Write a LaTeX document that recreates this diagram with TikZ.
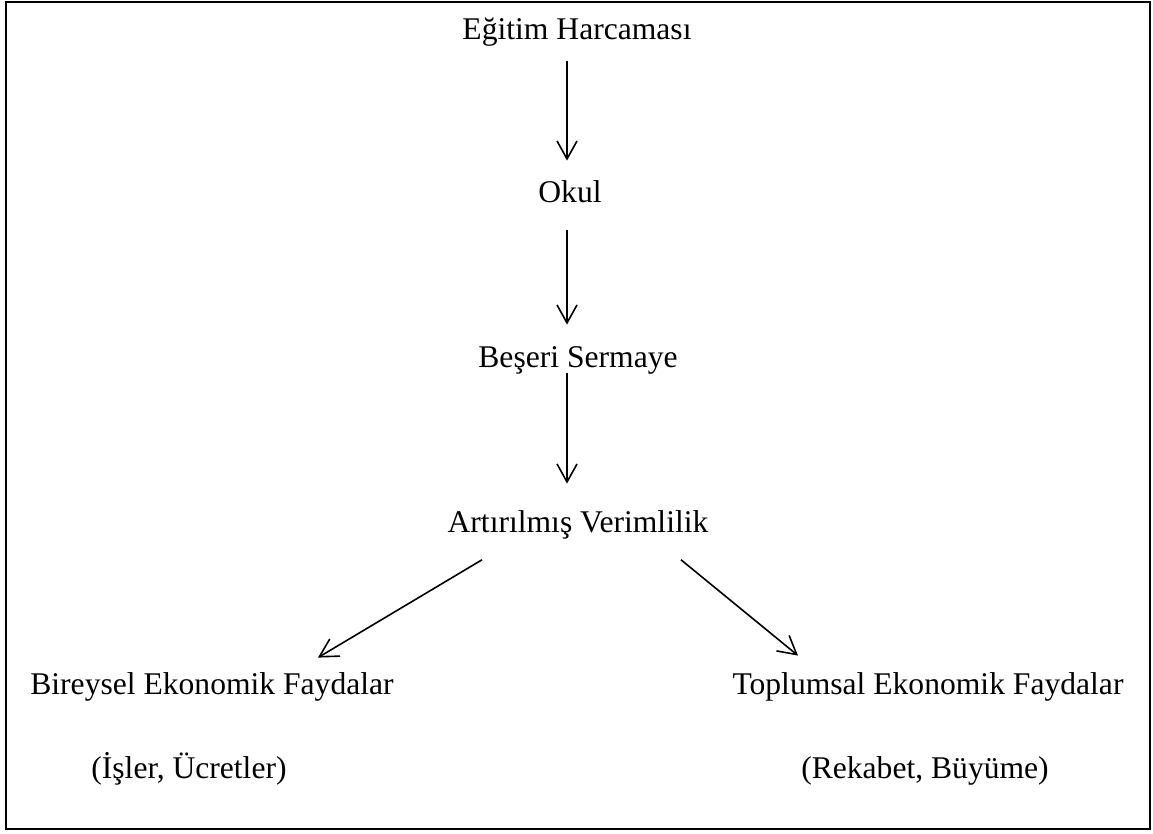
\documentclass[tikz,border=0pt]{standalone}
\usepackage{fontspec}
\setmainfont{Liberation Serif}
\usepackage{tikz}
\usetikzlibrary{arrows.meta}
\usetikzlibrary{calc}

\tikzset{
  lbl/.style={anchor=base, inner sep=0pt, text height=.7em, text depth=.22em},
  arr/.style={line width=0.8pt, -{Straight Barb[length=9pt,width=10pt,line width=0.8pt]}}
}

\begin{document}
\begin{tikzpicture}[x=0.5pt,y=-0.5pt, font=\fontsize{15.8}{19}\selectfont]
			\useasboundingbox (0,0) rectangle (1153,834);
			\draw [line width=1pt] (6,2) rectangle (1150,829);
			\node [lbl] (egitim) at (577,40) {Eğitim Harcaması};
			\node [lbl] (okul) at (570,203) {Okul};
			\node [lbl] (beseri) at (578,368) {Beşeri Sermaye};
			\node [lbl] (artir) at (578,533) {Artırılmış Verimlilik};
			\node [lbl] (bireysel) at (212,695) {Bireysel Ekonomik Faydalar};
			\node [lbl] (isler) at (189,778) {(İşler, Ücretler)};
			\node [lbl] (toplum) at (928,695) {Toplumsal Ekonomik Faydalar};
			\node [lbl] (rekabet) at (925,778) {(Rekabet, Büyüme)};
			\draw [arr] ($(egitim.south)+(-10,16)$) -- ($(okul.north)+(-3,-28)$);
			\draw [arr] ($(okul.south)+(-3,22)$) -- ($(beseri.north)+(-11,-29)$);
			\draw [arr] ($(beseri.south)+(-11,0)$) -- ($(artir.north)+(-11,-35)$);
			\draw [arr] ($(artir.south)+(-96,22)$) -- ($(bireysel.north)+(106,-23)$);
			\draw [arr] ($(artir.south)+(103,22)$) -- ($(toplum.north)+(-130,-25)$);
		\end{tikzpicture}
\end{document}
